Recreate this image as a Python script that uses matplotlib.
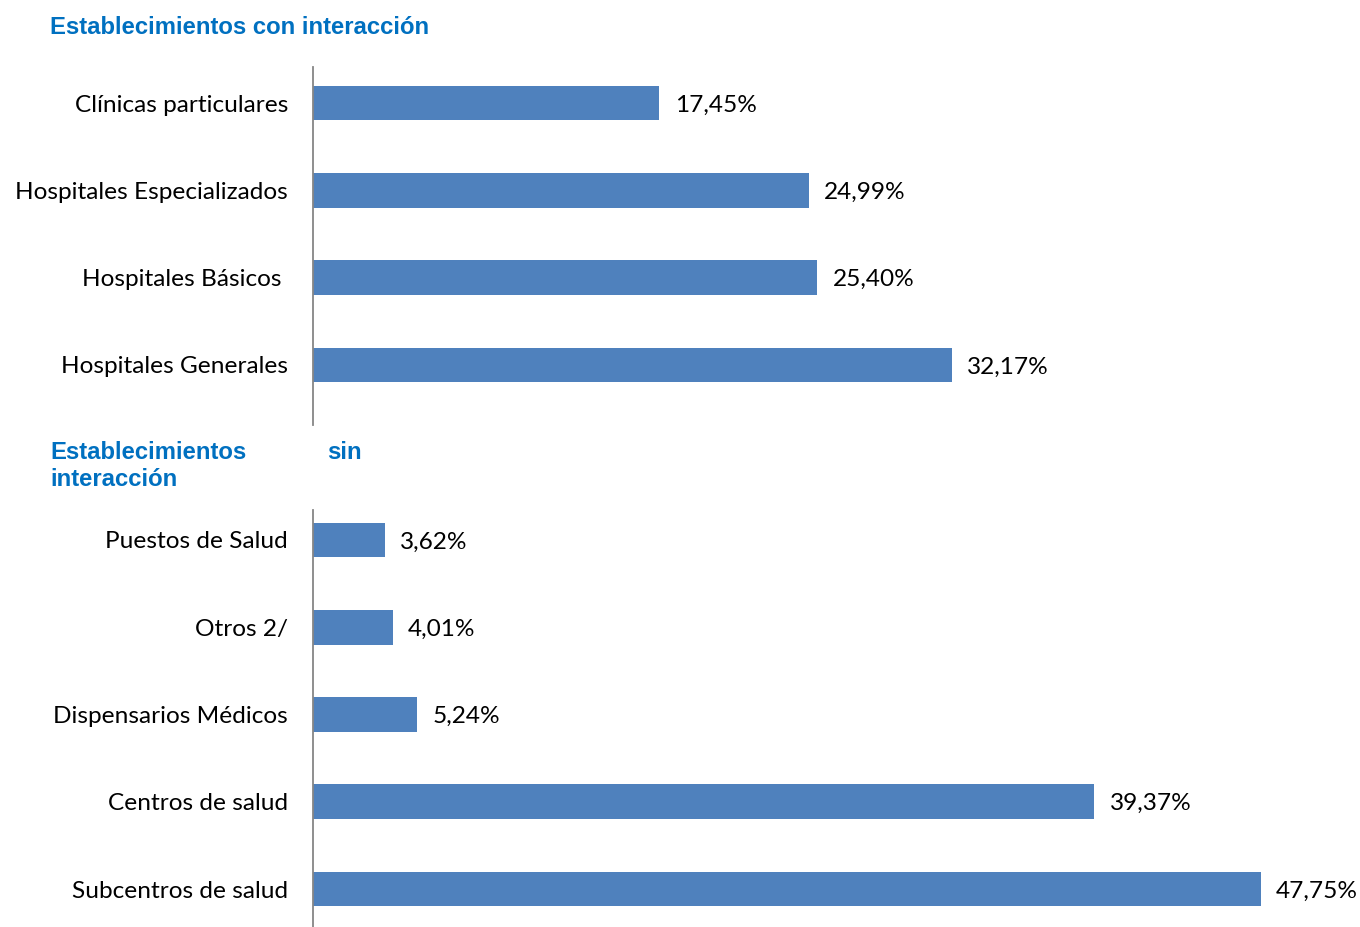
import matplotlib
matplotlib.use("Agg")
import matplotlib.pyplot as plt

top_categories = ["Clínicas particulares", "Hospitales Especializados", "Hospitales Básicos ", "Hospitales Generales"]
top_values = [17.45, 24.99, 25.40, 32.17]

bottom_categories = ["Puestos de Salud", "Otros 2/", "Dispensarios Médicos", "Centros de salud", "Subcentros de salud"]
bottom_values = [3.62, 4.01, 5.24, 39.37, 47.75]

BAR_COLOR = "#4F81BD"
AXIS_COLOR = "#868686"
TITLE_COLOR = "#0070C0"
LABEL_FONT = "Lato"
TITLE_FONT = "Liberation Sans"

W, H = 1360, 927
fig = plt.figure(figsize=(W / 100, H / 100), dpi=100)

x_left = 313
px_per_unit = 19.85
xmax = 52.5


def make_axes(top_px, bottom_px, first_center_px, spacing_px, cats, vals):
    ax = fig.add_axes([x_left / W, 1 - bottom_px / H,
                       xmax * px_per_unit / W, (bottom_px - top_px) / H])
    y0 = (top_px - first_center_px) / spacing_px
    y1 = (bottom_px - first_center_px) / spacing_px
    pos = list(range(len(cats)))
    bars = ax.barh(pos, vals, height=0.40, color=BAR_COLOR, edgecolor="none")
    ax.set_ylim(y1, y0)
    ax.set_xlim(0, xmax)
    ax.set_yticks(pos)
    ax.set_yticklabels(cats, fontsize=17.6, family=LABEL_FONT)
    ax.tick_params(axis="y", length=0, pad=18)
    ax.set_xticks([])
    for s in ["top", "right", "bottom"]:
        ax.spines[s].set_visible(False)
    ax.spines["left"].set_color(AXIS_COLOR)
    ax.spines["left"].set_linewidth(1.3)
    anns = ax.bar_label(bars, labels=[f"{v:.2f}".replace(".", ",") + "%" for v in vals],
                        padding=11, fontsize=17.6, family=LABEL_FONT)
    for a in anns:
        a.xyann = (11, -1.5)
    ax.patch.set_alpha(0)
    return ax


make_axes(67, 425, 103, 87.33, top_categories, top_values)
make_axes(510, 927, 540, 87.25, bottom_categories, bottom_values)

title_kw = dict(color=TITLE_COLOR, fontsize=17.2, fontweight="bold", family=TITLE_FONT,
                va="center", ha="left")
fig.text(50 / W, 1 - 27 / H, "Establecimientos con interacción", **title_kw)
fig.text(50 / W, 1 - 452 / H, "Establecimientos", **title_kw)
fig.text(327 / W, 1 - 452 / H, "sin", **title_kw)
fig.text(50 / W, 1 - 480 / H, "interacción", **title_kw)

fig.savefig("out.png", dpi=100)
